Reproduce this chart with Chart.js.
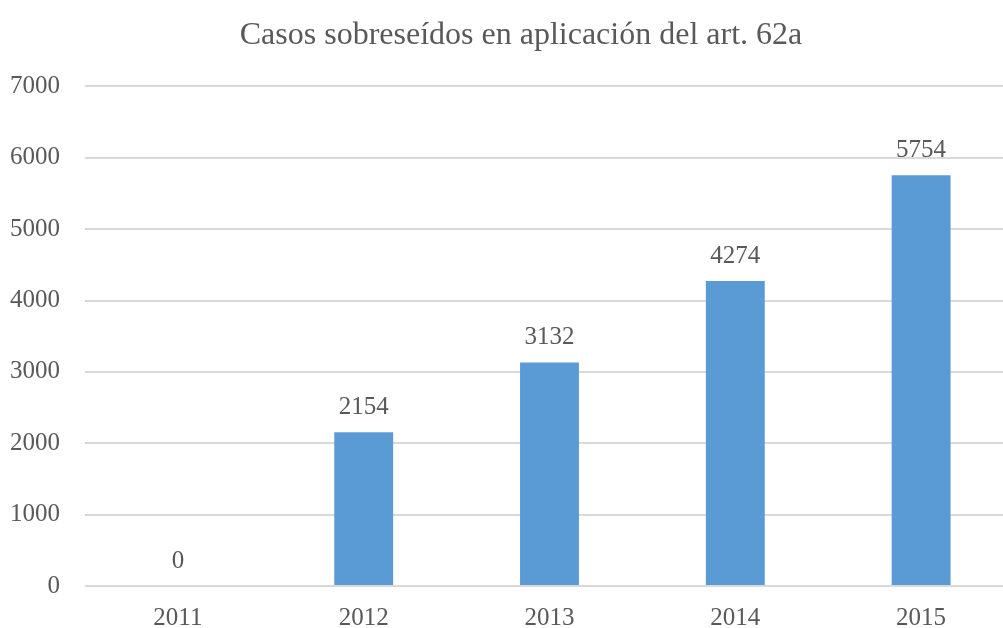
<!DOCTYPE html>
<html>
<head>
<meta charset="utf-8">
<script src="https://cdn.jsdelivr.net/npm/chart.js@4"></script>
<style>
  html, body { margin: 0; padding: 0; background: #fff; overflow: hidden; }
  #wrap { position: absolute; left: 0; top: 0; width: 1042px; height: 628px; }
</style>
</head>
<body>
<div id="wrap"><canvas id="chart"></canvas></div>
<script>
const years = ['2011', '2012', '2013', '2014', '2015'];
const casos = [0, 2154, 3132, 4274, 5754];
const yTicks = [0, 1000, 2000, 3000, 4000, 5000, 6000, 7000];

const FONT = '"Liberation Serif", "Times New Roman", serif';
const TEXT = '#595959';
const TITLE_CENTER = 521;

// draws the value above each bar
const valueLabels = {
  id: 'valueLabels',
  afterDatasetsDraw(chart) {
    const ctx = chart.ctx;
    const meta = chart.getDatasetMeta(0);
    ctx.save();
    ctx.font = '25px ' + FONT;
    ctx.fillStyle = TEXT;
    ctx.textAlign = 'center';
    ctx.textBaseline = 'alphabetic';
    meta.data.forEach((bar, i) => {
      ctx.fillText(String(casos[i]), bar.x, bar.y - 18);
    });
    ctx.restore();
  }
};

// nudge the title so it is centred where the original one is
const titleShift = {
  id: 'titleShift',
  afterLayout(chart) {
    const tb = chart.titleBlock;
    if (tb) {
      const d = TITLE_CENTER - (tb.left + tb.right) / 2;
      tb.left += d;
      tb.right += d;
    }
  }
};

new Chart(document.getElementById('chart'), {
  type: 'bar',
  data: {
    labels: years,
    datasets: [{
      data: casos,
      backgroundColor: '#5B9BD5',
      borderWidth: 0,
      categoryPercentage: 1,
      barPercentage: 0.317
    }]
  },
  options: {
    responsive: true,
    maintainAspectRatio: false,
    animation: false,
    layout: { padding: { left: -15, right: 28, top: 0, bottom: -22 } },
    plugins: {
      legend: { display: false },
      tooltip: { enabled: false },
      title: {
        display: true,
        text: 'Casos sobreseídos en aplicación del art. 62a',
        color: TEXT,
        font: { family: FONT, size: 32, weight: 'normal' },
        padding: { top: 16, bottom: 32 }
      }
    },
    scales: {
      x: {
        grid: { display: false, drawTicks: false },
        border: { display: false },
        ticks: {
          color: TEXT,
          font: { family: FONT, size: 25 },
          padding: 17
        }
      },
      y: {
        min: 0,
        max: 7000,
        afterBuildTicks(axis) {
          axis.ticks = yTicks.map(v => ({ value: v }));
        },
        grid: { color: '#d9d9d9', lineWidth: 2, drawTicks: false },
        border: { display: false },
        ticks: {
          color: TEXT,
          font: { family: FONT, size: 25 },
          padding: 25,
          callback: v => String(v)
        }
      }
    }
  },
  plugins: [valueLabels, titleShift]
});
</script>
</body>
</html>
